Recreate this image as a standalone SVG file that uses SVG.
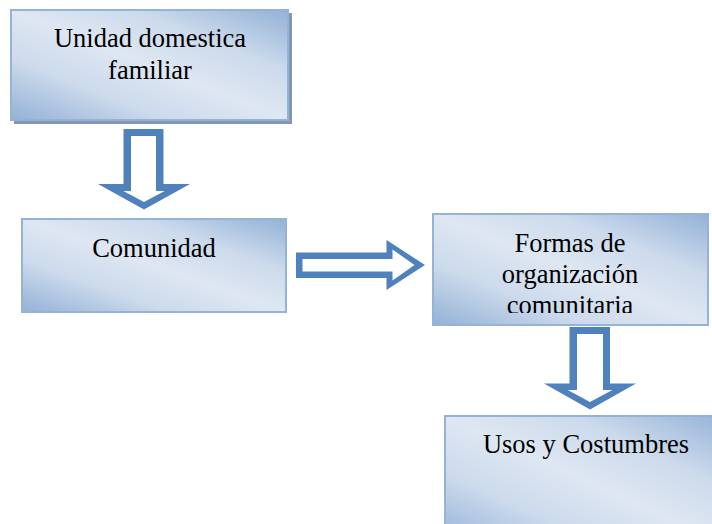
<svg xmlns="http://www.w3.org/2000/svg" width="712" height="524" viewBox="0 0 712 524">
  <defs>
    <linearGradient id="boxFill" x1="1" y1="0" x2="0" y2="1">
      <stop offset="0" stop-color="#93b1d6"/>
      <stop offset="0.28" stop-color="#ccdaec"/>
      <stop offset="0.5" stop-color="#dee7f2"/>
      <stop offset="0.72" stop-color="#ccdaec"/>
      <stop offset="1" stop-color="#93b1d6"/>
    </linearGradient>
    <clipPath id="clipFormas">
      <rect x="433" y="214" width="275" height="99"/>
    </clipPath>
  </defs>
  <style>
    .box { fill: url(#boxFill); stroke: #95b3d7; stroke-width: 2; }
    .shadow { fill: #8197b4; }
    .label { font-family: "Liberation Serif", "Times New Roman", serif; font-size: 26.5px; fill: #000; text-anchor: middle; }
    .arrow-outer { fill: #4f81bd; }
    .arrow-inner { fill: #ffffff; }
  </style>
  <rect width="712" height="524" fill="#ffffff"/>

  <g id="node-unidad">
    <rect class="shadow" x="14" y="13" width="278" height="111"/>
    <rect class="box" x="11" y="10" width="277" height="110"/>
    <text class="label" x="150" y="47">Unidad domestica</text>
    <text class="label" x="150" y="79">familiar</text>
  </g>

  <g id="node-comunidad">
    <rect class="box" x="22" y="219" width="264" height="93"/>
    <text class="label" x="154" y="257">Comunidad</text>
  </g>

  <g id="node-formas">
    <rect class="box" x="433" y="214" width="275" height="111"/>
    <text class="label" x="570" y="252">Formas de</text>
    <text class="label" x="570" y="283">organización</text>
    <text class="label" x="570" y="314" clip-path="url(#clipFormas)">comunitaria</text>
  </g>

  <g id="node-usos">
    <rect class="box" x="445" y="416" width="284" height="130"/>
    <text class="label" x="586" y="453">Usos y Costumbres</text>
  </g>

  <g id="connectors">
    <g id="arrow-unidad-comunidad">
      <polygon class="arrow-outer" points="123.5,129 163.5,129 163.5,184 190,184 144,209.5 98,184 123.5,184"/>
      <polygon class="arrow-inner" points="131,136 156,136 156,191 164.7,191 144,202 123.3,191 131,191"/>
    </g>
    <g id="arrow-comunidad-formas">
      <polygon class="arrow-outer" points="296,252.5 386.5,252.5 386.5,240 425,265 386.5,290 386.5,278 296,278"/>
      <polygon class="arrow-inner" points="302.5,259 392.5,259 392.5,249.5 414.5,265 392.5,280.5 392.5,271.5 302.5,271.5"/>
    </g>
    <g id="arrow-formas-usos">
      <polygon class="arrow-outer" points="569.5,327 610,327 610,383.5 636,383.5 590,409.5 544,383.5 569.5,383.5"/>
      <polygon class="arrow-inner" points="577,334 603,334 603,390 612.3,390 590,402 567.7,390 577,390"/>
    </g>
  </g>
</svg>
